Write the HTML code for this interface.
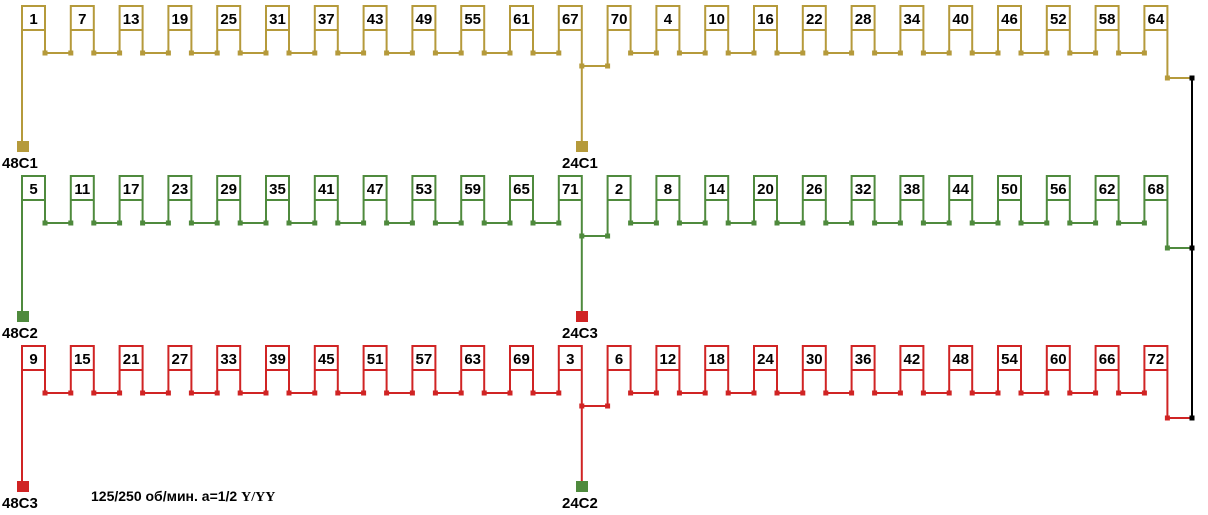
<!DOCTYPE html>
<html><head><meta charset="utf-8"><style>
html,body{margin:0;padding:0;background:#fff;width:1208px;height:515px;overflow:hidden}
svg{display:block}
text{font-family:"Liberation Sans",Arial,sans-serif;font-weight:bold;font-size:15px;fill:#000}
.n{text-anchor:middle}
</style></head><body>
<svg width="1208" height="515" viewBox="0 0 1208 515" xmlns="http://www.w3.org/2000/svg" xmlns:xlink="http://www.w3.org/1999/xlink">
<defs>
<path id="c" d="M0 47V0H23V47M0 24H23" fill="none"/>
<g id="row">
<use xlink:href="#c" x="22" y="6"/><use xlink:href="#c" x="70.8" y="6"/><use xlink:href="#c" x="119.6" y="6"/><use xlink:href="#c" x="168.4" y="6"/><use xlink:href="#c" x="217.2" y="6"/><use xlink:href="#c" x="266" y="6"/><use xlink:href="#c" x="314.8" y="6"/><use xlink:href="#c" x="363.6" y="6"/><use xlink:href="#c" x="412.4" y="6"/><use xlink:href="#c" x="461.2" y="6"/><use xlink:href="#c" x="510" y="6"/><use xlink:href="#c" x="558.8" y="6"/><use xlink:href="#c" x="607.6" y="6"/><use xlink:href="#c" x="656.4" y="6"/><use xlink:href="#c" x="705.2" y="6"/><use xlink:href="#c" x="754" y="6"/><use xlink:href="#c" x="802.8" y="6"/><use xlink:href="#c" x="851.6" y="6"/><use xlink:href="#c" x="900.4" y="6"/><use xlink:href="#c" x="949.2" y="6"/><use xlink:href="#c" x="998" y="6"/><use xlink:href="#c" x="1046.8" y="6"/><use xlink:href="#c" x="1095.6" y="6"/><use xlink:href="#c" x="1144.4" y="6"/>
<path fill="none" d="M45 53H70.8M93.8 53H119.6M142.6 53H168.4M191.4 53H217.2M240.2 53H266M289 53H314.8M337.8 53H363.6M386.6 53H412.4M435.4 53H461.2M484.2 53H510M533 53H558.8M630.6 53H656.4M679.4 53H705.2M728.2 53H754M777 53H802.8M825.8 53H851.6M874.6 53H900.4M923.4 53H949.2M972.2 53H998M1021 53H1046.8M1069.8 53H1095.6M1118.6 53H1144.4M22 53V142M581.8 53V142M581.8 66H607.6V53M1167.4 53V78H1192"/>
<path fill="none" stroke-width="5" stroke-linecap="square" d="M45 53h0M70.8 53h0M93.8 53h0M119.6 53h0M142.6 53h0M168.4 53h0M191.4 53h0M217.2 53h0M240.2 53h0M266 53h0M289 53h0M314.8 53h0M337.8 53h0M363.6 53h0M386.6 53h0M412.4 53h0M435.4 53h0M461.2 53h0M484.2 53h0M510 53h0M533 53h0M558.8 53h0M630.6 53h0M656.4 53h0M679.4 53h0M705.2 53h0M728.2 53h0M754 53h0M777 53h0M802.8 53h0M825.8 53h0M851.6 53h0M874.6 53h0M900.4 53h0M923.4 53h0M949.2 53h0M972.2 53h0M998 53h0M1021 53h0M1046.8 53h0M1069.8 53h0M1095.6 53h0M1118.6 53h0M1144.4 53h0M581.8 66h0M607.6 66h0M1167.4 78h0"/>
</g>
</defs>

<g stroke="#b59a3b" stroke-width="2"><use xlink:href="#row"/></g>
<g stroke="#4f8a3d" stroke-width="2" transform="translate(0,170)"><use xlink:href="#row"/></g>
<g stroke="#d02424" stroke-width="2" transform="translate(0,340)"><use xlink:href="#row"/></g>

<path d="M1192 78V418" stroke="#000" stroke-width="2"/>
<rect x="1189.5" y="75.5" width="5" height="5" fill="#000"/>
<rect x="1189.5" y="245.5" width="5" height="5" fill="#000"/>
<rect x="1189.5" y="415.5" width="5" height="5" fill="#000"/>

<rect x="17" y="141" width="12" height="11" fill="#b59a3b"/>
<rect x="576" y="141" width="12" height="11" fill="#b59a3b"/>
<rect x="17" y="311" width="12" height="11" fill="#4f8a3d"/>
<rect x="576" y="311" width="12" height="11" fill="#d02424"/>
<rect x="17" y="481" width="12" height="11" fill="#d02424"/>
<rect x="576" y="481" width="12" height="11" fill="#4f8a3d"/>
<text x="2" y="168">48C1</text><text x="562" y="168">24C1</text>
<text x="2" y="338">48C2</text><text x="562" y="338">24C3</text>
<text x="2" y="508">48C3</text><text x="562" y="508">24C2</text>

<g>
<text class="n" x="33.5" y="24">1</text><text class="n" x="82.3" y="24">7</text><text class="n" x="131.1" y="24">13</text><text class="n" x="179.9" y="24">19</text><text class="n" x="228.7" y="24">25</text><text class="n" x="277.5" y="24">31</text><text class="n" x="326.3" y="24">37</text><text class="n" x="375.1" y="24">43</text><text class="n" x="423.9" y="24">49</text><text class="n" x="472.7" y="24">55</text><text class="n" x="521.5" y="24">61</text><text class="n" x="570.3" y="24">67</text><text class="n" x="619.1" y="24">70</text><text class="n" x="667.9" y="24">4</text><text class="n" x="716.7" y="24">10</text><text class="n" x="765.5" y="24">16</text><text class="n" x="814.3" y="24">22</text><text class="n" x="863.1" y="24">28</text><text class="n" x="911.9" y="24">34</text><text class="n" x="960.7" y="24">40</text><text class="n" x="1009.5" y="24">46</text><text class="n" x="1058.3" y="24">52</text><text class="n" x="1107.1" y="24">58</text><text class="n" x="1155.9" y="24">64</text>

<text class="n" x="33.5" y="194">5</text><text class="n" x="82.3" y="194">11</text><text class="n" x="131.1" y="194">17</text><text class="n" x="179.9" y="194">23</text><text class="n" x="228.7" y="194">29</text><text class="n" x="277.5" y="194">35</text><text class="n" x="326.3" y="194">41</text><text class="n" x="375.1" y="194">47</text><text class="n" x="423.9" y="194">53</text><text class="n" x="472.7" y="194">59</text><text class="n" x="521.5" y="194">65</text><text class="n" x="570.3" y="194">71</text><text class="n" x="619.1" y="194">2</text><text class="n" x="667.9" y="194">8</text><text class="n" x="716.7" y="194">14</text><text class="n" x="765.5" y="194">20</text><text class="n" x="814.3" y="194">26</text><text class="n" x="863.1" y="194">32</text><text class="n" x="911.9" y="194">38</text><text class="n" x="960.7" y="194">44</text><text class="n" x="1009.5" y="194">50</text><text class="n" x="1058.3" y="194">56</text><text class="n" x="1107.1" y="194">62</text><text class="n" x="1155.9" y="194">68</text>

<text class="n" x="33.5" y="364">9</text><text class="n" x="82.3" y="364">15</text><text class="n" x="131.1" y="364">21</text><text class="n" x="179.9" y="364">27</text><text class="n" x="228.7" y="364">33</text><text class="n" x="277.5" y="364">39</text><text class="n" x="326.3" y="364">45</text><text class="n" x="375.1" y="364">51</text><text class="n" x="423.9" y="364">57</text><text class="n" x="472.7" y="364">63</text><text class="n" x="521.5" y="364">69</text><text class="n" x="570.3" y="364">3</text><text class="n" x="619.1" y="364">6</text><text class="n" x="667.9" y="364">12</text><text class="n" x="716.7" y="364">18</text><text class="n" x="765.5" y="364">24</text><text class="n" x="814.3" y="364">30</text><text class="n" x="863.1" y="364">36</text><text class="n" x="911.9" y="364">42</text><text class="n" x="960.7" y="364">48</text><text class="n" x="1009.5" y="364">54</text><text class="n" x="1058.3" y="364">60</text><text class="n" x="1107.1" y="364">66</text><text class="n" x="1155.9" y="364">72</text>
</g>

<text x="91" y="501" style="font-size:14px">125/250 об/мин. а=1/2 <tspan style="font-family:'Liberation Serif',serif;font-size:14px">Y/YY</tspan></text>
</svg>
</body></html>
